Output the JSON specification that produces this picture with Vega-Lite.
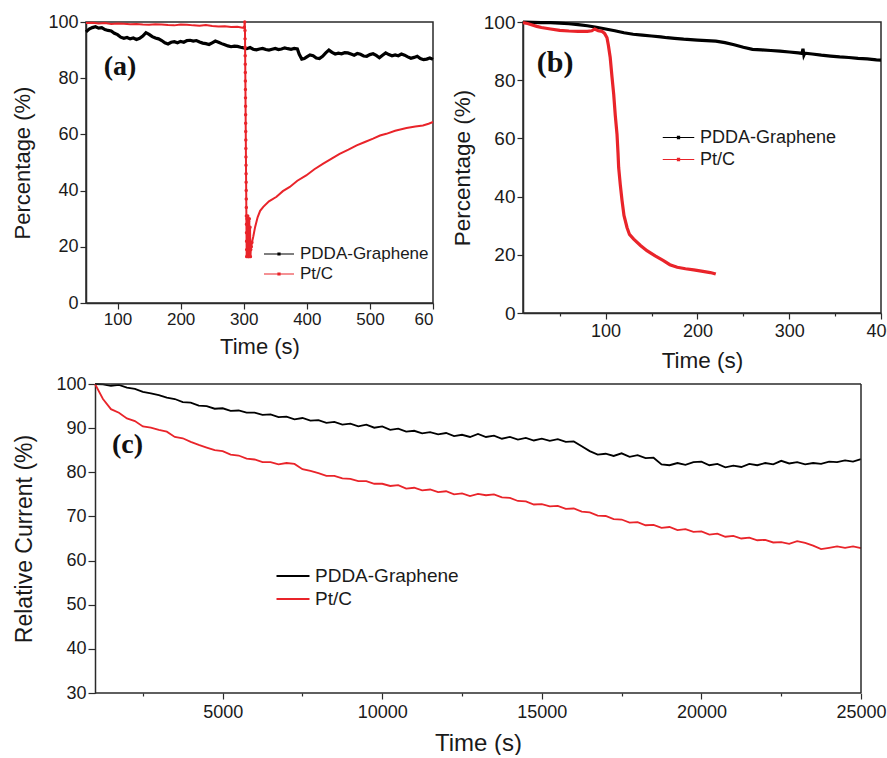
{
  "$schema": "https://vega.github.io/schema/vega-lite/v6.json",
  "background": "white",
  "padding": {"left": 11, "top": 12, "right": 0, "bottom": 0},
  "config": {
    "font": "Liberation Sans",
    "view": {"stroke": "#2a2a2a", "strokeWidth": 1.5},
    "axis": {"grid": false, "domainColor": "#2a2a2a", "domainWidth": 1.5, "tickColor": "#2a2a2a", "tickWidth": 1.2, "labelColor": "#1a1a1a", "titleColor": "#1a1a1a", "labelFont": "Liberation Sans", "titleFont": "Liberation Sans", "titleFontWeight": "normal", "labelFlush": false, "labelOverlap": false},
    "legend": {"orient": "none", "padding": 0, "offset": 0, "labelFont": "Liberation Sans", "labelColor": "#1a1a1a", "rowPadding": 1, "symbolStrokeWidth": 1.2, "title": null}
  },
  "datasets": {
    "a": [
      {"s":"PDDA-Graphene","t":50,"v":96.5},{"s":"PDDA-Graphene","t":55,"v":97.5},{"s":"PDDA-Graphene","t":60,"v":98.0},{"s":"PDDA-Graphene","t":65,"v":98.3},{"s":"PDDA-Graphene","t":70,"v":97.8},{"s":"PDDA-Graphene","t":75,"v":98.0},{"s":"PDDA-Graphene","t":80,"v":97.3},{"s":"PDDA-Graphene","t":85,"v":97.0},{"s":"PDDA-Graphene","t":90,"v":96.8},{"s":"PDDA-Graphene","t":95,"v":96.0},{"s":"PDDA-Graphene","t":100,"v":95.5},{"s":"PDDA-Graphene","t":105,"v":94.6},{"s":"PDDA-Graphene","t":110,"v":94.2},{"s":"PDDA-Graphene","t":115,"v":94.5},{"s":"PDDA-Graphene","t":120,"v":94.0},{"s":"PDDA-Graphene","t":125,"v":94.3},{"s":"PDDA-Graphene","t":130,"v":93.8},{"s":"PDDA-Graphene","t":135,"v":94.2},{"s":"PDDA-Graphene","t":140,"v":95.0},{"s":"PDDA-Graphene","t":145,"v":96.2},{"s":"PDDA-Graphene","t":150,"v":95.6},{"s":"PDDA-Graphene","t":155,"v":94.8},{"s":"PDDA-Graphene","t":160,"v":94.3},{"s":"PDDA-Graphene","t":165,"v":94.0},{"s":"PDDA-Graphene","t":170,"v":93.4},{"s":"PDDA-Graphene","t":175,"v":92.6},{"s":"PDDA-Graphene","t":180,"v":92.2},{"s":"PDDA-Graphene","t":185,"v":92.8},{"s":"PDDA-Graphene","t":190,"v":93.0},{"s":"PDDA-Graphene","t":195,"v":92.6},{"s":"PDDA-Graphene","t":200,"v":93.1},{"s":"PDDA-Graphene","t":205,"v":92.8},{"s":"PDDA-Graphene","t":210,"v":93.4},{"s":"PDDA-Graphene","t":215,"v":93.5},{"s":"PDDA-Graphene","t":220,"v":93.2},{"s":"PDDA-Graphene","t":225,"v":93.4},{"s":"PDDA-Graphene","t":230,"v":92.9},{"s":"PDDA-Graphene","t":235,"v":92.5},{"s":"PDDA-Graphene","t":240,"v":92.3},{"s":"PDDA-Graphene","t":245,"v":92.0},{"s":"PDDA-Graphene","t":250,"v":92.6},{"s":"PDDA-Graphene","t":255,"v":93.2},{"s":"PDDA-Graphene","t":260,"v":92.8},{"s":"PDDA-Graphene","t":265,"v":92.3},{"s":"PDDA-Graphene","t":270,"v":91.9},{"s":"PDDA-Graphene","t":275,"v":91.5},{"s":"PDDA-Graphene","t":280,"v":91.2},{"s":"PDDA-Graphene","t":285,"v":91.4},{"s":"PDDA-Graphene","t":290,"v":91.3},{"s":"PDDA-Graphene","t":295,"v":91.0},{"s":"PDDA-Graphene","t":300,"v":90.8},{"s":"PDDA-Graphene","t":305,"v":90.5},{"s":"PDDA-Graphene","t":310,"v":90.9},{"s":"PDDA-Graphene","t":315,"v":90.3},{"s":"PDDA-Graphene","t":320,"v":90.1},{"s":"PDDA-Graphene","t":325,"v":90.4},{"s":"PDDA-Graphene","t":330,"v":90.6},{"s":"PDDA-Graphene","t":335,"v":90.2},{"s":"PDDA-Graphene","t":340,"v":90.0},{"s":"PDDA-Graphene","t":345,"v":90.3},{"s":"PDDA-Graphene","t":350,"v":90.6},{"s":"PDDA-Graphene","t":355,"v":90.2},{"s":"PDDA-Graphene","t":360,"v":90.4},{"s":"PDDA-Graphene","t":365,"v":90.8},{"s":"PDDA-Graphene","t":370,"v":90.5},{"s":"PDDA-Graphene","t":375,"v":90.3},{"s":"PDDA-Graphene","t":380,"v":90.6},{"s":"PDDA-Graphene","t":385,"v":90.4},{"s":"PDDA-Graphene","t":388,"v":88.5},{"s":"PDDA-Graphene","t":392,"v":86.8},{"s":"PDDA-Graphene","t":396,"v":87.0},{"s":"PDDA-Graphene","t":400,"v":87.6},{"s":"PDDA-Graphene","t":405,"v":88.3},{"s":"PDDA-Graphene","t":410,"v":88.0},{"s":"PDDA-Graphene","t":415,"v":87.2},{"s":"PDDA-Graphene","t":420,"v":87.0},{"s":"PDDA-Graphene","t":425,"v":87.8},{"s":"PDDA-Graphene","t":430,"v":89.0},{"s":"PDDA-Graphene","t":435,"v":90.0},{"s":"PDDA-Graphene","t":440,"v":89.2},{"s":"PDDA-Graphene","t":445,"v":88.6},{"s":"PDDA-Graphene","t":450,"v":88.9},{"s":"PDDA-Graphene","t":455,"v":88.7},{"s":"PDDA-Graphene","t":460,"v":89.1},{"s":"PDDA-Graphene","t":465,"v":89.0},{"s":"PDDA-Graphene","t":470,"v":88.6},{"s":"PDDA-Graphene","t":475,"v":88.2},{"s":"PDDA-Graphene","t":480,"v":88.8},{"s":"PDDA-Graphene","t":485,"v":88.5},{"s":"PDDA-Graphene","t":490,"v":87.9},{"s":"PDDA-Graphene","t":495,"v":87.8},{"s":"PDDA-Graphene","t":500,"v":88.4},{"s":"PDDA-Graphene","t":505,"v":88.7},{"s":"PDDA-Graphene","t":510,"v":88.1},{"s":"PDDA-Graphene","t":515,"v":87.3},{"s":"PDDA-Graphene","t":520,"v":88.2},{"s":"PDDA-Graphene","t":525,"v":89.0},{"s":"PDDA-Graphene","t":530,"v":88.4},{"s":"PDDA-Graphene","t":535,"v":88.0},{"s":"PDDA-Graphene","t":540,"v":88.3},{"s":"PDDA-Graphene","t":545,"v":88.0},{"s":"PDDA-Graphene","t":550,"v":88.6},{"s":"PDDA-Graphene","t":555,"v":88.2},{"s":"PDDA-Graphene","t":560,"v":87.6},{"s":"PDDA-Graphene","t":565,"v":87.1},{"s":"PDDA-Graphene","t":570,"v":87.4},{"s":"PDDA-Graphene","t":575,"v":87.8},{"s":"PDDA-Graphene","t":580,"v":87.0},{"s":"PDDA-Graphene","t":585,"v":86.6},{"s":"PDDA-Graphene","t":590,"v":86.8},{"s":"PDDA-Graphene","t":595,"v":87.2},{"s":"PDDA-Graphene","t":600,"v":86.7},
      {"s":"Pt/C","t":50,"v":99.6},{"s":"Pt/C","t":60,"v":99.7},{"s":"Pt/C","t":70,"v":99.5},{"s":"Pt/C","t":80,"v":99.6},{"s":"Pt/C","t":90,"v":99.3},{"s":"Pt/C","t":100,"v":99.5},{"s":"Pt/C","t":110,"v":99.4},{"s":"Pt/C","t":120,"v":99.2},{"s":"Pt/C","t":130,"v":99.3},{"s":"Pt/C","t":140,"v":99.1},{"s":"Pt/C","t":150,"v":99.0},{"s":"Pt/C","t":160,"v":99.2},{"s":"Pt/C","t":170,"v":99.1},{"s":"Pt/C","t":180,"v":98.9},{"s":"Pt/C","t":190,"v":98.8},{"s":"Pt/C","t":200,"v":99.1},{"s":"Pt/C","t":210,"v":99.0},{"s":"Pt/C","t":220,"v":98.8},{"s":"Pt/C","t":230,"v":98.7},{"s":"Pt/C","t":240,"v":98.9},{"s":"Pt/C","t":250,"v":98.6},{"s":"Pt/C","t":260,"v":98.4},{"s":"Pt/C","t":270,"v":98.5},{"s":"Pt/C","t":280,"v":98.2},{"s":"Pt/C","t":290,"v":98.3},{"s":"Pt/C","t":298,"v":98.0},{"s":"Pt/C","t":301,"v":98.1},{"s":"Pt/C","t":301.6,"v":100},
      {"s":"Pt/C","t":302.0,"v":97},{"s":"Pt/C","t":302.1,"v":94},{"s":"Pt/C","t":302.2,"v":91},{"s":"Pt/C","t":302.3,"v":88},{"s":"Pt/C","t":302.4,"v":85},{"s":"Pt/C","t":302.5,"v":82},{"s":"Pt/C","t":302.6,"v":79},{"s":"Pt/C","t":302.7,"v":76},{"s":"Pt/C","t":302.8,"v":73},{"s":"Pt/C","t":302.9,"v":70},{"s":"Pt/C","t":303.0,"v":67},{"s":"Pt/C","t":303.1,"v":64},{"s":"Pt/C","t":303.2,"v":61},{"s":"Pt/C","t":303.3,"v":58},{"s":"Pt/C","t":303.4,"v":55},{"s":"Pt/C","t":303.5,"v":52},{"s":"Pt/C","t":303.6,"v":49},{"s":"Pt/C","t":303.7,"v":46},{"s":"Pt/C","t":303.8,"v":43},{"s":"Pt/C","t":303.9,"v":40},{"s":"Pt/C","t":304.0,"v":37},{"s":"Pt/C","t":304.1,"v":34},{"s":"Pt/C","t":304.2,"v":31},{"s":"Pt/C","t":304.3,"v":28},{"s":"Pt/C","t":304.4,"v":25},{"s":"Pt/C","t":304.5,"v":22},{"s":"Pt/C","t":304.6,"v":19},{"s":"Pt/C","t":304.7,"v":16.5},
      {"s":"Pt/C","t":305.2,"v":30},{"s":"Pt/C","t":305.8,"v":17},{"s":"Pt/C","t":306.4,"v":31},{"s":"Pt/C","t":307.0,"v":16.5},{"s":"Pt/C","t":307.6,"v":29},{"s":"Pt/C","t":308.2,"v":16.5},{"s":"Pt/C","t":308.8,"v":30},{"s":"Pt/C","t":309.4,"v":17},{"s":"Pt/C","t":310.0,"v":27},{"s":"Pt/C","t":310.6,"v":16.5},{"s":"Pt/C","t":311.2,"v":19},{"s":"Pt/C","t":312,"v":20},{"s":"Pt/C","t":313,"v":21.5},
      {"s":"Pt/C","t":315,"v":23.5},{"s":"Pt/C","t":318,"v":27},{"s":"Pt/C","t":322,"v":30.5},{"s":"Pt/C","t":326,"v":32.8},{"s":"Pt/C","t":331,"v":34.2},{"s":"Pt/C","t":340,"v":36.2},{"s":"Pt/C","t":352,"v":37.8},{"s":"Pt/C","t":362,"v":39.8},{"s":"Pt/C","t":373,"v":41.3},{"s":"Pt/C","t":385,"v":43.5},{"s":"Pt/C","t":399,"v":45.4},{"s":"Pt/C","t":412,"v":47.6},{"s":"Pt/C","t":426,"v":49.6},{"s":"Pt/C","t":440,"v":51.5},{"s":"Pt/C","t":452,"v":53.1},{"s":"Pt/C","t":466,"v":54.6},{"s":"Pt/C","t":479,"v":56.1},{"s":"Pt/C","t":492,"v":57.3},{"s":"Pt/C","t":505,"v":58.5},{"s":"Pt/C","t":516,"v":59.6},{"s":"Pt/C","t":526,"v":60.2},{"s":"Pt/C","t":540,"v":61.3},{"s":"Pt/C","t":558,"v":62.3},{"s":"Pt/C","t":572,"v":62.8},{"s":"Pt/C","t":584,"v":63.2},{"s":"Pt/C","t":593,"v":63.8},{"s":"Pt/C","t":600,"v":64.4}
    ],
    "b": [
      {"s":"PDDA-Graphene","t":10,"v":100},{"s":"PDDA-Graphene","t":20,"v":99.9},{"s":"PDDA-Graphene","t":30,"v":99.8},{"s":"PDDA-Graphene","t":40,"v":99.8},{"s":"PDDA-Graphene","t":50,"v":99.6},{"s":"PDDA-Graphene","t":60,"v":99.4},{"s":"PDDA-Graphene","t":70,"v":99.1},{"s":"PDDA-Graphene","t":80,"v":98.7},{"s":"PDDA-Graphene","t":90,"v":98.2},{"s":"PDDA-Graphene","t":100,"v":97.6},{"s":"PDDA-Graphene","t":110,"v":97.0},{"s":"PDDA-Graphene","t":120,"v":96.3},{"s":"PDDA-Graphene","t":130,"v":95.8},{"s":"PDDA-Graphene","t":140,"v":95.5},{"s":"PDDA-Graphene","t":150,"v":95.2},{"s":"PDDA-Graphene","t":160,"v":94.9},{"s":"PDDA-Graphene","t":167,"v":94.6},{"s":"PDDA-Graphene","t":175,"v":94.4},{"s":"PDDA-Graphene","t":185,"v":94.1},{"s":"PDDA-Graphene","t":200,"v":93.8},{"s":"PDDA-Graphene","t":210,"v":93.6},{"s":"PDDA-Graphene","t":220,"v":93.4},{"s":"PDDA-Graphene","t":230,"v":92.9},{"s":"PDDA-Graphene","t":240,"v":92.2},{"s":"PDDA-Graphene","t":250,"v":91.3},{"s":"PDDA-Graphene","t":260,"v":90.6},{"s":"PDDA-Graphene","t":270,"v":90.4},{"s":"PDDA-Graphene","t":280,"v":90.2},{"s":"PDDA-Graphene","t":290,"v":90.0},{"s":"PDDA-Graphene","t":300,"v":89.7},{"s":"PDDA-Graphene","t":310,"v":89.4},{"s":"PDDA-Graphene","t":314,"v":89.2},{"s":"PDDA-Graphene","t":315,"v":90.8},{"s":"PDDA-Graphene","t":316,"v":88.6},{"s":"PDDA-Graphene","t":317,"v":89.3},{"s":"PDDA-Graphene","t":325,"v":89.0},{"s":"PDDA-Graphene","t":335,"v":88.6},{"s":"PDDA-Graphene","t":345,"v":88.3},{"s":"PDDA-Graphene","t":355,"v":88.0},{"s":"PDDA-Graphene","t":365,"v":87.8},{"s":"PDDA-Graphene","t":375,"v":87.5},{"s":"PDDA-Graphene","t":385,"v":87.3},{"s":"PDDA-Graphene","t":395,"v":87.0},{"s":"PDDA-Graphene","t":400,"v":86.9},
      {"s":"Pt/C","t":10,"v":99.8},{"s":"Pt/C","t":15,"v":99.5},{"s":"Pt/C","t":20,"v":99.0},{"s":"Pt/C","t":25,"v":98.5},{"s":"Pt/C","t":30,"v":98.1},{"s":"Pt/C","t":40,"v":97.6},{"s":"Pt/C","t":50,"v":97.1},{"s":"Pt/C","t":60,"v":96.9},{"s":"Pt/C","t":70,"v":96.8},{"s":"Pt/C","t":80,"v":96.8},{"s":"Pt/C","t":85,"v":97.0},{"s":"Pt/C","t":88,"v":97.6},{"s":"Pt/C","t":92,"v":97.0},{"s":"Pt/C","t":96,"v":96.8},{"s":"Pt/C","t":99,"v":96.0},{"s":"Pt/C","t":101.5,"v":94.6},{"s":"Pt/C","t":103,"v":92},{"s":"Pt/C","t":105,"v":87.8},{"s":"Pt/C","t":107,"v":81},{"s":"Pt/C","t":108.8,"v":75.2},{"s":"Pt/C","t":110.5,"v":68},{"s":"Pt/C","t":112.4,"v":61.5},{"s":"Pt/C","t":113.5,"v":55},{"s":"Pt/C","t":114.2,"v":50},{"s":"Pt/C","t":116,"v":44},{"s":"Pt/C","t":117.9,"v":38.6},{"s":"Pt/C","t":120,"v":33.5},{"s":"Pt/C","t":123.3,"v":29.4},{"s":"Pt/C","t":126,"v":27},{"s":"Pt/C","t":130.6,"v":25.4},{"s":"Pt/C","t":138,"v":23.2},{"s":"Pt/C","t":145,"v":21.4},{"s":"Pt/C","t":154,"v":19.6},{"s":"Pt/C","t":163,"v":18.0},{"s":"Pt/C","t":170,"v":16.6},{"s":"Pt/C","t":178,"v":15.7},{"s":"Pt/C","t":187,"v":15.2},{"s":"Pt/C","t":196,"v":14.8},{"s":"Pt/C","t":206,"v":14.3},{"s":"Pt/C","t":214,"v":13.9},{"s":"Pt/C","t":218,"v":13.6},{"s":"Pt/C","t":220,"v":13.4}
    ],
    "c": [
      {"s":"PDDA-Graphene","t":1000,"v":100.0},{"s":"PDDA-Graphene","t":1250,"v":99.9},{"s":"PDDA-Graphene","t":1500,"v":99.6},{"s":"PDDA-Graphene","t":1750,"v":99.8},{"s":"PDDA-Graphene","t":2000,"v":99.2},{"s":"PDDA-Graphene","t":2250,"v":98.9},{"s":"PDDA-Graphene","t":2500,"v":98.2},{"s":"PDDA-Graphene","t":2750,"v":97.9},{"s":"PDDA-Graphene","t":3000,"v":97.5},{"s":"PDDA-Graphene","t":3250,"v":96.9},{"s":"PDDA-Graphene","t":3500,"v":96.6},{"s":"PDDA-Graphene","t":3750,"v":95.9},{"s":"PDDA-Graphene","t":4000,"v":95.8},{"s":"PDDA-Graphene","t":4250,"v":95.1},{"s":"PDDA-Graphene","t":4500,"v":95.0},{"s":"PDDA-Graphene","t":4750,"v":94.4},{"s":"PDDA-Graphene","t":5000,"v":94.5},{"s":"PDDA-Graphene","t":5250,"v":93.9},{"s":"PDDA-Graphene","t":5500,"v":94.0},{"s":"PDDA-Graphene","t":5750,"v":93.5},{"s":"PDDA-Graphene","t":6000,"v":93.5},{"s":"PDDA-Graphene","t":6250,"v":93.0},{"s":"PDDA-Graphene","t":6500,"v":93.1},{"s":"PDDA-Graphene","t":6750,"v":92.5},{"s":"PDDA-Graphene","t":7000,"v":92.6},{"s":"PDDA-Graphene","t":7250,"v":92.0},{"s":"PDDA-Graphene","t":7500,"v":92.3},{"s":"PDDA-Graphene","t":7750,"v":91.7},{"s":"PDDA-Graphene","t":8000,"v":91.8},{"s":"PDDA-Graphene","t":8250,"v":91.2},{"s":"PDDA-Graphene","t":8500,"v":91.4},{"s":"PDDA-Graphene","t":8750,"v":90.8},{"s":"PDDA-Graphene","t":9000,"v":91.0},{"s":"PDDA-Graphene","t":9250,"v":90.4},{"s":"PDDA-Graphene","t":9500,"v":90.8},{"s":"PDDA-Graphene","t":9750,"v":90.1},{"s":"PDDA-Graphene","t":10000,"v":90.4},{"s":"PDDA-Graphene","t":10250,"v":89.6},{"s":"PDDA-Graphene","t":10500,"v":89.9},{"s":"PDDA-Graphene","t":10750,"v":89.2},{"s":"PDDA-Graphene","t":11000,"v":89.4},{"s":"PDDA-Graphene","t":11250,"v":88.8},{"s":"PDDA-Graphene","t":11500,"v":89.1},{"s":"PDDA-Graphene","t":11750,"v":88.6},{"s":"PDDA-Graphene","t":12000,"v":88.9},{"s":"PDDA-Graphene","t":12250,"v":88.2},{"s":"PDDA-Graphene","t":12500,"v":88.5},{"s":"PDDA-Graphene","t":12750,"v":88.0},{"s":"PDDA-Graphene","t":13000,"v":88.7},{"s":"PDDA-Graphene","t":13250,"v":88.0},{"s":"PDDA-Graphene","t":13500,"v":88.3},{"s":"PDDA-Graphene","t":13750,"v":87.6},{"s":"PDDA-Graphene","t":14000,"v":88.0},{"s":"PDDA-Graphene","t":14250,"v":87.4},{"s":"PDDA-Graphene","t":14500,"v":87.8},{"s":"PDDA-Graphene","t":14750,"v":87.2},{"s":"PDDA-Graphene","t":15000,"v":87.6},{"s":"PDDA-Graphene","t":15250,"v":87.1},{"s":"PDDA-Graphene","t":15500,"v":87.5},{"s":"PDDA-Graphene","t":15750,"v":86.9},{"s":"PDDA-Graphene","t":16000,"v":87.0},{"s":"PDDA-Graphene","t":16250,"v":85.9},{"s":"PDDA-Graphene","t":16500,"v":84.8},{"s":"PDDA-Graphene","t":16750,"v":84.0},{"s":"PDDA-Graphene","t":17000,"v":84.2},{"s":"PDDA-Graphene","t":17250,"v":83.7},{"s":"PDDA-Graphene","t":17500,"v":84.3},{"s":"PDDA-Graphene","t":17750,"v":83.5},{"s":"PDDA-Graphene","t":18000,"v":83.9},{"s":"PDDA-Graphene","t":18250,"v":83.2},{"s":"PDDA-Graphene","t":18500,"v":83.3},{"s":"PDDA-Graphene","t":18750,"v":81.8},{"s":"PDDA-Graphene","t":19000,"v":81.6},{"s":"PDDA-Graphene","t":19250,"v":82.1},{"s":"PDDA-Graphene","t":19500,"v":81.7},{"s":"PDDA-Graphene","t":19750,"v":82.3},{"s":"PDDA-Graphene","t":20000,"v":82.4},{"s":"PDDA-Graphene","t":20250,"v":81.6},{"s":"PDDA-Graphene","t":20500,"v":81.9},{"s":"PDDA-Graphene","t":20750,"v":81.1},{"s":"PDDA-Graphene","t":21000,"v":81.5},{"s":"PDDA-Graphene","t":21250,"v":81.2},{"s":"PDDA-Graphene","t":21500,"v":81.9},{"s":"PDDA-Graphene","t":21750,"v":81.6},{"s":"PDDA-Graphene","t":22000,"v":82.1},{"s":"PDDA-Graphene","t":22250,"v":81.8},{"s":"PDDA-Graphene","t":22500,"v":82.6},{"s":"PDDA-Graphene","t":22750,"v":82.0},{"s":"PDDA-Graphene","t":23000,"v":82.3},{"s":"PDDA-Graphene","t":23250,"v":81.8},{"s":"PDDA-Graphene","t":23500,"v":82.1},{"s":"PDDA-Graphene","t":23750,"v":81.9},{"s":"PDDA-Graphene","t":24000,"v":82.4},{"s":"PDDA-Graphene","t":24250,"v":82.3},{"s":"PDDA-Graphene","t":24500,"v":82.7},{"s":"PDDA-Graphene","t":24750,"v":82.4},{"s":"PDDA-Graphene","t":25000,"v":83.0},
      {"s":"Pt/C","t":1000,"v":100.0},{"s":"Pt/C","t":1250,"v":96.6},{"s":"Pt/C","t":1500,"v":94.3},{"s":"Pt/C","t":1750,"v":93.5},{"s":"Pt/C","t":2000,"v":92.2},{"s":"Pt/C","t":2250,"v":91.6},{"s":"Pt/C","t":2500,"v":90.4},{"s":"Pt/C","t":2750,"v":90.1},{"s":"Pt/C","t":3000,"v":89.6},{"s":"Pt/C","t":3250,"v":89.2},{"s":"Pt/C","t":3500,"v":88.0},{"s":"Pt/C","t":3750,"v":87.7},{"s":"Pt/C","t":4000,"v":86.9},{"s":"Pt/C","t":4250,"v":86.2},{"s":"Pt/C","t":4500,"v":85.6},{"s":"Pt/C","t":4750,"v":85.0},{"s":"Pt/C","t":5000,"v":84.8},{"s":"Pt/C","t":5250,"v":84.0},{"s":"Pt/C","t":5500,"v":83.8},{"s":"Pt/C","t":5750,"v":83.1},{"s":"Pt/C","t":6000,"v":82.9},{"s":"Pt/C","t":6250,"v":82.3},{"s":"Pt/C","t":6500,"v":82.3},{"s":"Pt/C","t":6750,"v":81.8},{"s":"Pt/C","t":7000,"v":82.1},{"s":"Pt/C","t":7250,"v":81.9},{"s":"Pt/C","t":7500,"v":80.7},{"s":"Pt/C","t":7750,"v":80.3},{"s":"Pt/C","t":8000,"v":79.8},{"s":"Pt/C","t":8250,"v":79.2},{"s":"Pt/C","t":8500,"v":79.2},{"s":"Pt/C","t":8750,"v":78.6},{"s":"Pt/C","t":9000,"v":78.5},{"s":"Pt/C","t":9250,"v":78.0},{"s":"Pt/C","t":9500,"v":78.0},{"s":"Pt/C","t":9750,"v":77.4},{"s":"Pt/C","t":10000,"v":77.4},{"s":"Pt/C","t":10250,"v":76.9},{"s":"Pt/C","t":10500,"v":77.1},{"s":"Pt/C","t":10750,"v":76.3},{"s":"Pt/C","t":11000,"v":76.5},{"s":"Pt/C","t":11250,"v":75.9},{"s":"Pt/C","t":11500,"v":76.1},{"s":"Pt/C","t":11750,"v":75.5},{"s":"Pt/C","t":12000,"v":75.7},{"s":"Pt/C","t":12250,"v":75.0},{"s":"Pt/C","t":12500,"v":75.2},{"s":"Pt/C","t":12750,"v":74.6},{"s":"Pt/C","t":13000,"v":75.1},{"s":"Pt/C","t":13250,"v":74.8},{"s":"Pt/C","t":13500,"v":75.0},{"s":"Pt/C","t":13750,"v":74.3},{"s":"Pt/C","t":14000,"v":74.2},{"s":"Pt/C","t":14250,"v":73.5},{"s":"Pt/C","t":14500,"v":73.4},{"s":"Pt/C","t":14750,"v":72.7},{"s":"Pt/C","t":15000,"v":72.8},{"s":"Pt/C","t":15250,"v":72.3},{"s":"Pt/C","t":15500,"v":72.4},{"s":"Pt/C","t":15750,"v":71.7},{"s":"Pt/C","t":16000,"v":71.8},{"s":"Pt/C","t":16250,"v":71.1},{"s":"Pt/C","t":16500,"v":70.9},{"s":"Pt/C","t":16750,"v":70.2},{"s":"Pt/C","t":17000,"v":70.1},{"s":"Pt/C","t":17250,"v":69.4},{"s":"Pt/C","t":17500,"v":69.3},{"s":"Pt/C","t":17750,"v":68.6},{"s":"Pt/C","t":18000,"v":68.7},{"s":"Pt/C","t":18250,"v":68.0},{"s":"Pt/C","t":18500,"v":68.1},{"s":"Pt/C","t":18750,"v":67.4},{"s":"Pt/C","t":19000,"v":67.6},{"s":"Pt/C","t":19250,"v":66.9},{"s":"Pt/C","t":19500,"v":67.1},{"s":"Pt/C","t":19750,"v":66.5},{"s":"Pt/C","t":20000,"v":66.6},{"s":"Pt/C","t":20250,"v":65.9},{"s":"Pt/C","t":20500,"v":66.1},{"s":"Pt/C","t":20750,"v":65.4},{"s":"Pt/C","t":21000,"v":65.6},{"s":"Pt/C","t":21250,"v":65.0},{"s":"Pt/C","t":21500,"v":65.2},{"s":"Pt/C","t":21750,"v":64.6},{"s":"Pt/C","t":22000,"v":64.7},{"s":"Pt/C","t":22250,"v":64.1},{"s":"Pt/C","t":22500,"v":64.2},{"s":"Pt/C","t":22750,"v":63.8},{"s":"Pt/C","t":23000,"v":64.4},{"s":"Pt/C","t":23250,"v":64.0},{"s":"Pt/C","t":23500,"v":63.4},{"s":"Pt/C","t":23750,"v":62.6},{"s":"Pt/C","t":24000,"v":62.9},{"s":"Pt/C","t":24250,"v":63.2},{"s":"Pt/C","t":24500,"v":62.9},{"s":"Pt/C","t":24750,"v":63.2},{"s":"Pt/C","t":25000,"v":62.8}
    ]
  },
  "spacing": 2,
  "resolve": {"scale": {"color": "independent"}, "legend": {"color": "independent"}},
  "vconcat": [
    {
      "spacing": 9,
      "resolve": {"scale": {"color": "independent"}, "legend": {"color": "independent"}},
      "hconcat": [
        {
          "width": 347, "height": 281,
          "layer": [
            {
              "data": {"name": "a"},
              "encoding": {
                "x": {"field": "t", "type": "quantitative", "scale": {"domain": [50, 600], "nice": false, "zero": false},
                  "axis": {"title": "Time (s)", "values": [100,150,200,250,300,350,400,450,500,550,600],
                    "labelExpr": "datum.value === 600 ? '60' : (datum.value % 100 === 0 ? format(datum.value, 'd') : '')",
                    "labelFlush": true,
                    "tickSize": {"condition": {"test": "datum.value % 100 === 0", "value": 6}, "value": 3},
                    "labelFontSize": 17, "titleFontSize": 22, "labelPadding": 2, "titlePadding": 9}},
                "y": {"field": "v", "type": "quantitative", "scale": {"domain": [0, 100], "nice": false},
                  "axis": {"title": "Percentage (%)", "values": [0,10,20,30,40,50,60,70,80,90,100],
                    "labelExpr": "datum.value % 20 === 0 ? datum.label : ''",
                    "tickSize": {"condition": {"test": "datum.value % 20 === 0", "value": 6}, "value": 3},
                    "labelFontSize": 18, "titleFontSize": 22, "labelPadding": 2, "titlePadding": 13}}
              },
              "layer": [
                {
                  "mark": {"type": "line"},
                  "encoding": {
                    "color": {"field": "s", "type": "nominal", "scale": {"domain": ["PDDA-Graphene", "Pt/C"], "range": ["#000000", "#e9242a"]},
                      "legend": {"legendX": 182, "legendY": 221, "symbolType": "M-1.5,0H1.5M-0.1,-0.1H0.1V0.1H-0.1Z", "symbolSize": 400, "labelFontSize": 17, "labelOffset": 10}},
                    "strokeWidth": {"condition": {"test": "datum.s === 'Pt/C'", "value": 2}, "value": 3.2}
                  }
                },
                {
                  "transform": [{"filter": "datum.s === 'Pt/C' && datum.t >= 301 && datum.t <= 313"}],
                  "mark": {"type": "point", "filled": true, "size": 12, "color": "#e9242a", "opacity": 1}
                }
              ]
            },
            {
              "data": {"values": [{"label": "(a)"}]},
              "mark": {"type": "text", "font": "Liberation Serif", "fontWeight": "bold", "fontSize": 28, "color": "#111111"},
              "encoding": {"x": {"datum": 104, "type": "quantitative"}, "y": {"datum": 84, "type": "quantitative"}, "text": {"field": "label"}}
            }
          ]
        },
        {
          "width": 358, "height": 291,
          "layer": [
            {
              "data": {"name": "b"},
              "mark": {"type": "line", "strokeWidth": 3.2},
              "encoding": {
                "x": {"field": "t", "type": "quantitative", "scale": {"domain": [10, 400], "nice": false, "zero": false},
                  "axis": {"title": "Time (s)", "values": [50,100,150,200,250,300,350,400],
                    "labelExpr": "datum.value % 100 === 0 ? datum.label : ''",
                    "tickSize": {"condition": {"test": "datum.value % 100 === 0", "value": 6}, "value": 3},
                    "labelFontSize": 18, "titleFontSize": 22.5, "labelPadding": 3, "titlePadding": 9}},
                "y": {"field": "v", "type": "quantitative", "scale": {"domain": [0, 100], "nice": false},
                  "axis": {"title": "Percentage (%)", "values": [0,10,20,30,40,50,60,70,80,90,100],
                    "labelExpr": "datum.value % 20 === 0 ? datum.label : ''",
                    "tickSize": {"condition": {"test": "datum.value % 20 === 0", "value": 6}, "value": 3},
                    "labelFontSize": 19, "titleFontSize": 22.5, "labelPadding": 2, "titlePadding": 9}},
                "color": {"field": "s", "type": "nominal", "scale": {"domain": ["PDDA-Graphene", "Pt/C"], "range": ["#000000", "#e9242a"]},
                  "legend": {"legendX": 144, "legendY": 104, "symbolType": "M-1.5,0H1.5M-0.1,-0.1H0.1V0.1H-0.1Z", "symbolSize": 441, "labelFontSize": 18, "labelOffset": 10}}
              }
            },
            {
              "data": {"values": [{"label": "(b)"}]},
              "mark": {"type": "text", "font": "Liberation Serif", "fontWeight": "bold", "fontSize": 30, "color": "#111111"},
              "encoding": {"x": {"datum": 45}, "y": {"datum": 86}, "text": {"field": "label"}}
            }
          ]
        }
      ]
    },
    {
      "width": 775, "height": 309,
      "view": {"stroke": null},
      "layer": [
        {
          "data": {"name": "c"},
          "mark": {"type": "line", "strokeWidth": 1.8},
          "encoding": {
            "x": {"field": "t", "type": "quantitative", "scale": {"domain": [718, 25000], "nice": false, "zero": false},
              "axis": {"title": "Time (s)", "values": [2500,5000,7500,10000,12500,15000,17500,20000,22500,25000],
                "labelExpr": "datum.value % 5000 === 0 ? datum.value : ''",
                "tickSize": {"condition": {"test": "datum.value % 5000 === 0", "value": 6}, "value": 3},
                "domain": false, "titleX": 392,
                "labelFontSize": 18, "titleFontSize": 24, "labelPadding": 4, "titlePadding": 10}},
            "y": {"field": "v", "type": "quantitative", "scale": {"domain": [30, 100], "nice": false, "zero": false},
              "axis": {"title": "Relative Current (%)", "values": [30,35,40,45,50,55,60,65,70,75,80,85,90,95,100],
                "labelExpr": "datum.value % 10 === 0 ? datum.label : ''",
                "tickSize": {"condition": {"test": "datum.value % 10 === 0", "value": 7}, "value": 3},
                "offset": -9,
                "labelFontSize": 18, "titleFontSize": 23, "labelPadding": 2, "titlePadding": 19}},
            "color": {"field": "s", "type": "nominal", "scale": {"domain": ["PDDA-Graphene", "Pt/C"], "range": ["#000000", "#e9242a"]},
              "legend": {"legendX": 195, "legendY": 180, "symbolType": "M-1.5,0H1.5", "symbolSize": 484, "labelFontSize": 19, "labelOffset": 10, "symbolStrokeWidth": 2}}
          }
        },
        {
          "data": {"values": [{}]},
          "mark": {"type": "rule", "color": "#2a2a2a", "strokeWidth": 1.5},
          "encoding": {"x": {"datum": 1000, "type": "quantitative"}, "x2": {"datum": 25000}, "y": {"datum": 100, "type": "quantitative"}}
        },
        {
          "data": {"values": [{}]},
          "mark": {"type": "rule", "color": "#2a2a2a", "strokeWidth": 1.5},
          "encoding": {"x": {"datum": 1000, "type": "quantitative"}, "x2": {"datum": 25000}, "y": {"datum": 30, "type": "quantitative"}}
        },
        {
          "data": {"values": [{}]},
          "mark": {"type": "rule", "color": "#2a2a2a", "strokeWidth": 1.5},
          "encoding": {"x": {"datum": 25000, "type": "quantitative"}, "y": {"datum": 30, "type": "quantitative"}, "y2": {"datum": 100}}
        },
        {
          "data": {"values": [{"label": "(c)"}]},
          "mark": {"type": "text", "font": "Liberation Serif", "fontWeight": "bold", "fontSize": 28, "color": "#111111"},
          "encoding": {"x": {"datum": 2016}, "y": {"datum": 86.2}, "text": {"field": "label"}}
        }
      ]
    }
  ]
}
